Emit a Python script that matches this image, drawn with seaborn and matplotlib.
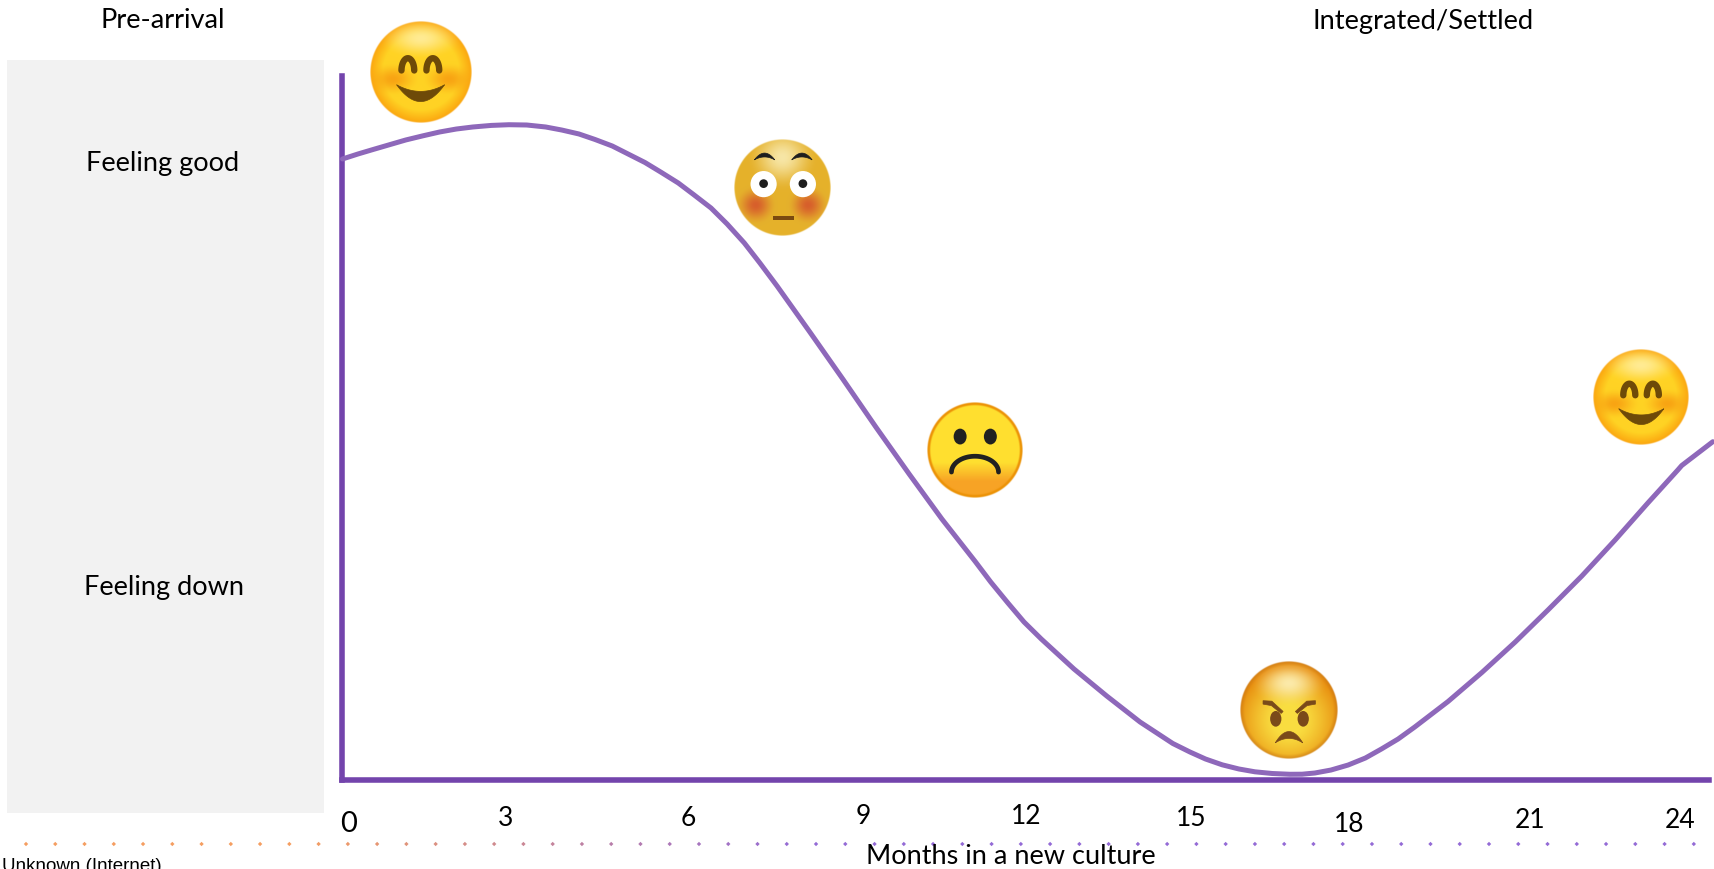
# Culture shock curve, months in a new culture vs mood
import numpy as np
import matplotlib
matplotlib.use('Agg')
import matplotlib.pyplot as plt
from matplotlib.patches import Ellipse, Polygon, Rectangle
import seaborn as sns

# Data
months = [0, 0.28, 0.55, 0.86, 1.14, 1.45, 1.75, 2.05, 2.35, 2.68, 3.0, 3.32, 3.66, 3.95, 4.26, 4.55,
          4.86, 5.14, 5.45, 5.74, 6.05, 6.33, 6.64, 6.93, 7.24, 7.52, 7.83, 8.42, 9.02, 9.61, 10.21,
          10.80, 11.40, 11.68, 11.99, 12.28, 12.59, 13.18, 13.77, 14.37, 14.96, 15.27, 15.55, 15.85,
          16.15, 16.44, 16.75, 17.07, 17.29, 17.52, 17.81, 18.12, 18.43, 18.72, 19.02, 19.32, 19.92,
          20.53, 21.13, 21.72, 22.33, 22.93, 23.52, 24.06, 24.13, 24.69]
mood = [87.83, 88.54, 89.17, 89.88, 90.52, 91.11, 91.65, 92.07, 92.36, 92.58, 92.68, 92.64, 92.36,
        91.93, 91.37, 90.59, 89.67, 88.56, 87.33, 85.95, 84.43, 82.77, 80.89, 78.63, 75.94, 73.11,
        69.85, 63.34, 56.62, 49.89, 43.24, 36.87, 30.86, 27.95, 24.98, 22.29, 19.89, 15.64, 11.82,
        8.14, 5.10, 3.89, 2.90, 2.08, 1.49, 1.09, 0.85, 0.74, 0.75, 0.92, 1.34, 2.05, 3.04, 4.32,
        5.73, 7.43, 11.04, 15.15, 19.46, 23.99, 28.80, 33.90, 39.14, 43.81, 44.44, 47.81]
tick_months = [0, 3, 6, 9, 12, 15, 18, 21, 24]
tick_shift_x = [6.5, -3, 12.5, 21, 17.5, 16, 7.5, 22, 5.5]
tick_shift_y = [-44.5, -39.5, -39.5, -37.5, -36.5, -39.5, -44.5, -41.5, -40.5]

W, H = 1715, 869
AXIS_COL = '#7344AC'
CURVE_COL = '#8E68BA'
TEXT_FONT = 'Lato'

sns.set_theme(style='white')
plt.rcParams['font.family'] = [TEXT_FONT, 'DejaVu Sans']

fig = plt.figure(figsize=(W / 100, H / 100), dpi=100, facecolor='white')

# overlay in pixel coordinates for the panel, the dots and the faces
deco = fig.add_axes([0, 0, 1, 1], zorder=1)
deco.set_xlim(0, W)
deco.set_ylim(H, 0)
deco.axis('off')

ax = fig.add_axes([342.5 / W, 1 - 779.5 / H, (1712 - 342.5) / W, (779.5 - 73) / H], zorder=2)
ax.patch.set_alpha(0)
sns.lineplot(x=months, y=mood, ax=ax, sort=False, estimator=None, color=CURVE_COL, linewidth=3.6,
             solid_capstyle='round', solid_joinstyle='round', clip_on=False, zorder=3)
x_max = (1712 - 342.5) / 55.5
ax.set_xlim(0, x_max)
ax.set_ylim(0, 100)
ax.set_xticks([])
ax.set_yticks([])
sns.despine(ax=ax)
for side in ['left', 'bottom']:
    ax.spines[side].set_color(AXIS_COL)
    ax.spines[side].set_linewidth(4.0)
# spine caps stick out a little, pull the ends back
ax.spines['left'].set_bounds(0, 100 - 2.75 / 7.065)
ax.spines['bottom'].set_bounds(0, x_max - 2.75 / 55.5)

for m, dx, dy in zip(tick_months, tick_shift_x, tick_shift_y):
    ax.annotate(str(m), xy=(m, 0), xytext=(dx, dy), textcoords='offset pixels', ha='center',
                va='center', fontsize=21 if m == 0 else 19, color='black', annotation_clip=False)

deco.add_patch(Rectangle((7, 60), 317, 753, color='#F2F2F2', lw=0))

# dotted row, orange fading into purple
dot_x = np.arange(26, 1700, 29.26)
t = np.clip((dot_x - 300) / 500, 0, 1)[:, None]
dot_cols = (1 - t) * np.array([0.96, 0.62, 0.38]) + t * np.array([0.58, 0.42, 0.84])
deco.scatter(dot_x, np.full_like(dot_x, 844.0), s=5, c=dot_cols, marker='D', linewidths=0)

deco.text(163, 21, 'Pre-arrival', ha='center', va='center', fontsize=19.6, color='black')
deco.text(1423, 22, 'Integrated/Settled', ha='center', va='center', fontsize=19.6, color='black')
deco.text(163, 164, 'Feeling good', ha='center', va='center', fontsize=19.5, color='black')
deco.text(164, 587, 'Feeling down', ha='center', va='center', fontsize=19.5, color='black')
deco.text(1011, 857, 'Months in a new culture', ha='center', va='center', fontsize=19.5, color='black',
          zorder=6)
deco.text(2, 871, 'Unknown (Internet)', ha='left', va='baseline', fontsize=13.5, color='black',
          family='Liberation Sans', clip_on=False)


def rgb(c):
    return np.array(matplotlib.colors.to_rgb(c))


def blob(u, v, cu, cv, ru, rv):
    # soft weight, 1 at the centre and 0 past the radius
    d = np.sqrt(((u - cu) / ru) ** 2 + ((v - cv) / rv) ** 2)
    w = np.clip(1 - d, 0, 1)
    return (w * w * (3 - 2 * w))[..., None]


def grid(r):
    n = int(2 * r * 2)
    s = (np.arange(n) + 0.5) / n * 2 - 1
    return np.meshgrid(s, s)


def paint(img, cx, cy, r, u, v):
    d = np.sqrt(u ** 2 + v ** 2)
    alpha = np.clip((1 - d) * r, 0, 1)[..., None]
    deco.imshow(np.clip(np.dstack([img, alpha]), 0, 1), extent=(cx - r, cx + r, cy + r, cy - r),
                origin='upper', interpolation='bilinear', aspect='auto', zorder=4)
    deco.set_xlim(0, W)
    deco.set_ylim(H, 0)


def crescent(cx, cy, r, u0, u1, top_mid, bot_mid, v_end, col):
    # closed shape between two parabolas meeting at the ends
    s = np.linspace(-1, 1, 40)
    us = (u0 + u1) / 2 + s * (u1 - u0) / 2
    upper = v_end + (top_mid - v_end) * (1 - s ** 2)
    lower = v_end + (bot_mid - v_end) * (1 - s ** 2)
    pts = np.r_[np.c_[us, upper], np.c_[us[::-1], lower[::-1]]]
    pts = pts * r + [cx, cy]
    deco.add_patch(Polygon(pts, closed=True, color=col, lw=0.5, zorder=5))


def arch(cx, cy, r, cu, cv, ru, rv, lw, col):
    # upper half of an ellipse as a round-ended stroke
    a = np.linspace(np.pi, 2 * np.pi, 40)
    deco.plot(cx + (cu + ru * np.cos(a)) * r, cy + (cv + rv * np.sin(a)) * r, color=col, lw=lw,
              solid_capstyle='round', zorder=5)


def smile_face(cx, cy, r):
    u, v = grid(r)
    d = np.sqrt(u ** 2 + v ** 2)[..., None]
    img = rgb('#FFD324') * np.ones(u.shape + (3,))
    rim = np.clip((d - 0.74) / 0.26, 0, 1)
    img = img * (1 - rim) + rgb('#FBA50F') * rim
    for cu in [-0.55, 0.55]:
        w = blob(u, v, cu, 0.14, 0.55, 0.34) * 0.85
        img = img * (1 - w) + rgb('#F79C10') * w
    w = blob(u, v, 0, -0.66, 0.85, 0.42) * 0.85
    img = img * (1 - w) + rgb('#FFEFA6') * w
    paint(img, cx, cy, r, u, v)
    brown = '#6E4A08'
    for cu in [-0.25, 0.24]:
        arch(cx, cy, r, cu, -0.03, 0.125, 0.24, 4.6, brown)
    crescent(cx, cy, r, -0.47, 0.47, 0.38, 0.58, 0.25, brown)


def flushed_face(cx, cy, r):
    u, v = grid(r)
    img = rgb('#E5B12B') * np.ones(u.shape + (3,))
    w = blob(u, v, 0, -0.62, 0.75, 0.7)
    img = img * (1 - w) + rgb('#F7E6A6') * w
    for cu in [-0.55, 0.53]:
        w = blob(u, v, cu, 0.36, 0.44, 0.42)
        img = img * (1 - w) + rgb('#D75F2C') * w
    paint(img, cx, cy, r, u, v)
    for cu in [-0.40, 0.41]:
        deco.add_patch(Ellipse((cx + cu * r, cy - 0.08 * r), 0.54 * r, 0.54 * r, color='white', lw=0,
                               zorder=5))
        deco.add_patch(Ellipse((cx + cu * r, cy - 0.09 * r), 0.18 * r, 0.18 * r, color='#1E1E1E', lw=0,
                               zorder=6))
    crescent(cx, cy, r, -0.59, -0.17, -0.72, -0.64, -0.58, '#1E1E1E')
    crescent(cx, cy, r, 0.18, 0.60, -0.72, -0.64, -0.58, '#1E1E1E')
    deco.add_patch(Rectangle((cx - 0.2 * r, cy + 0.57 * r), 0.43 * r, 0.08 * r, color='#7A4A10', lw=0,
                             zorder=5))


def frown_face(cx, cy, r):
    u, v = grid(r)
    t = np.clip((v - 0.25) / 0.4, 0, 1)[..., None]
    img = rgb('#FFE030') * (1 - t) + rgb('#F7A325') * t
    d = np.sqrt(u ** 2 + v ** 2)[..., None]
    ring = np.clip((d - 0.92) / 0.03, 0, 1)
    img = img * (1 - ring) + rgb('#EC9206') * ring
    paint(img, cx, cy, r, u, v)
    for cu in [-0.31, 0.32]:
        deco.add_patch(Ellipse((cx + cu * r, cy - 0.28 * r), 0.27 * r, 0.33 * r, color='#212121', lw=0,
                               zorder=5))
    arch(cx, cy, r, 0.0, 0.46, 0.49, 0.33, 3.4, '#212121')


def angry_face(cx, cy, r):
    u, v = grid(r)
    d = np.sqrt(u ** 2 + (v - 0.2) ** 2)[..., None]
    img = rgb('#F9DD40') * np.ones(u.shape + (3,))
    rim = np.clip((d - 0.3) / 0.75, 0, 1) ** 1.2
    img = img * (1 - rim) + rgb('#E88F10') * rim
    w = blob(u, v, 0, -0.55, 0.8, 0.5) * 0.9
    img = img * (1 - w) + rgb('#FDF0B8') * w
    d0 = np.sqrt(u ** 2 + v ** 2)[..., None]
    edge = np.clip((d0 - 0.9) / 0.1, 0, 1) * 0.6
    img = img * (1 - edge) + rgb('#C26E10') * edge
    paint(img, cx, cy, r, u, v)
    brown = '#7A4A1A'
    for cu in [-0.27, 0.29]:
        deco.add_patch(Ellipse((cx + cu * r, cy + 0.18 * r), 0.23 * r, 0.32 * r, color=brown, lw=0,
                               zorder=5))
    deco.add_patch(Polygon(np.array([[-0.53, -0.19], [-0.35, -0.18], [-0.12, 0.03], [-0.16, 0.07],
                                     [-0.36, -0.09], [-0.53, -0.12]]) * r + [cx, cy], color=brown,
                           lw=0.5, zorder=5))
    deco.add_patch(Polygon(np.array([[0.54, -0.19], [0.36, -0.18], [0.13, 0.03], [0.17, 0.07],
                                     [0.37, -0.09], [0.54, -0.12]]) * r + [cx, cy], color=brown,
                           lw=0.5, zorder=5))
    crescent(cx, cy, r, -0.28, 0.28, 0.44, 0.58, 0.67, brown)


smile_face(420.6, 72, 51)
flushed_face(783, 188, 48.5)
frown_face(975, 450, 48)
angry_face(1289, 710, 49)
smile_face(1641.3, 396.7, 48)

fig.savefig('out.png', dpi=100)
